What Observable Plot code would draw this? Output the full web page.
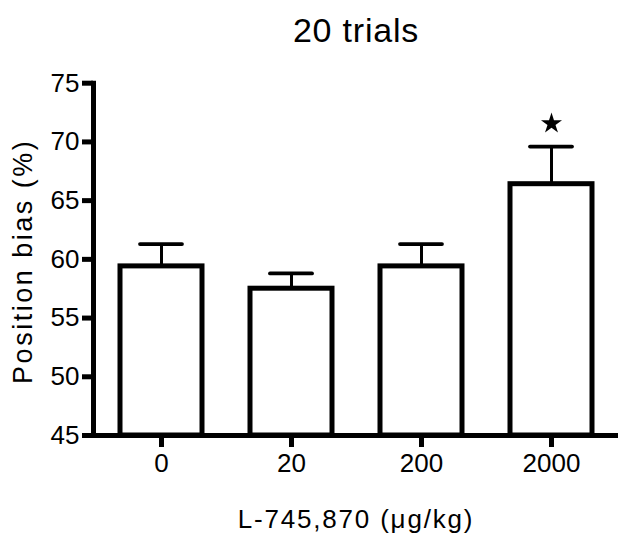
<!DOCTYPE html>
<html>
<head>
<meta charset="utf-8">
<script src="https://cdn.jsdelivr.net/npm/d3@7"></script>
<script src="https://cdn.jsdelivr.net/npm/@observablehq/plot@0.6"></script>
<style>
  html, body { margin: 0; padding: 0; background: #fff; }
</style>
</head>
<body>
<div id="chart"></div>
<script>
const doses = ["0", "20", "200", "2000"];
const means = [59.4, 57.5, 59.4, 66.4];
const uppers = [61.3, 58.8, 61.3, 69.6];
const significant = [false, false, false, true];
const yTicks = [45, 50, 55, 60, 65, 70, 75];
const titleText = "20 trials";
const xLabel = "L-745,870 (\u03bcg/kg)";
const yLabel = "Position bias (%)";

const data = doses.map((d, i) => ({dose: d, mean: means[i], upper: uppers[i], sig: significant[i]}));

const plot = Plot.plot({
  width: 628,
  height: 533,
  marginTop: 82.7,
  marginRight: 10,
  marginBottom: 98,
  marginLeft: 93,
  style: {fontFamily: "'Liberation Sans', Arial, sans-serif", color: "black", background: "white"},
  x: {domain: doses, paddingInner: 0.37, paddingOuter: 0.19},
  y: {domain: [45, 75]},
  marks: [
    Plot.barY(data, {x: "dose", y1: 45, y2: "mean", fill: "white", stroke: "black", strokeWidth: 5}),
    Plot.ruleX(data, {x: "dose", y1: "mean", y2: "upper", strokeWidth: 3}),
    Plot.tickY(data, {x: "dose", y: "upper", strokeWidth: 3.8, insetLeft: 20, insetRight: 20, strokeLinecap: "round"}),
    Plot.dot(data.filter(d => d.sig), {x: "dose", y: "upper", symbol: "star", r: 6.6, fill: "black", stroke: null, dy: -23}),
    Plot.ruleY([45], {strokeWidth: 5, insetLeft: -2}),
    Plot.frame({anchor: "left", strokeWidth: 5}),
    Plot.axisY({ticks: yTicks, tickSize: 11, tickPadding: 3, strokeWidth: 5, fontSize: 26, label: null, tickFormat: d => String(d)}),
    Plot.axisX({tickSize: 12, tickPadding: 6, strokeWidth: 5, fontSize: 26, label: null}),
    Plot.text([titleText], {text: d => d, frameAnchor: "top", lineAnchor: "bottom", dy: -41, fontSize: 34}),
    Plot.text([xLabel], {text: d => d, frameAnchor: "bottom", lineAnchor: "bottom", dy: 92, fontSize: 26}),
    Plot.text([yLabel], {text: d => d, frameAnchor: "left", textAnchor: "middle", lineAnchor: "bottom", rotate: -90, dx: -62, dy: 2, fontSize: 27})
  ]
});

d3.select(plot).selectAll("text").each(function() {
  const t = this.textContent;
  if (t === xLabel) this.style.letterSpacing = "1.8px";
  if (t === yLabel) this.style.letterSpacing = "2.5px";
  if (t === titleText) this.style.letterSpacing = "0.8px";
});

document.getElementById("chart").appendChild(plot);
</script>
</body>
</html>
